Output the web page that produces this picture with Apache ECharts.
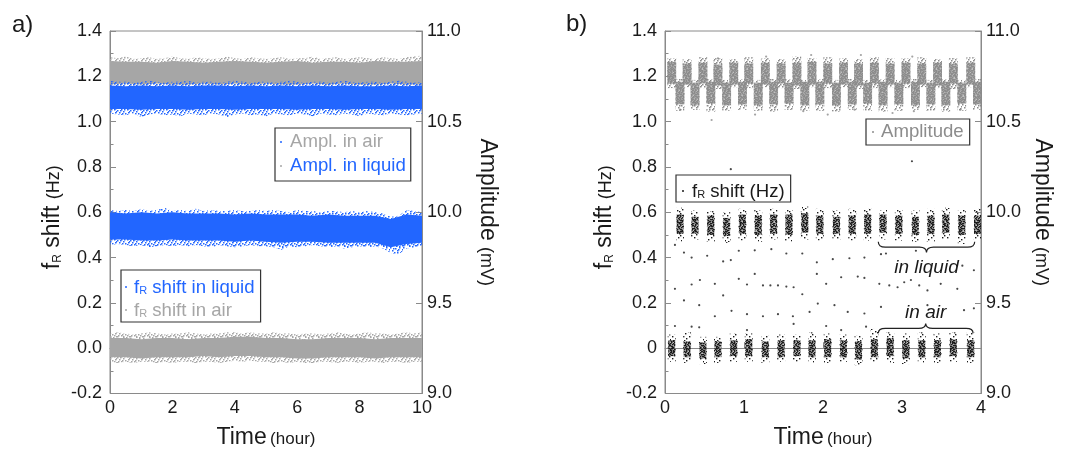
<!DOCTYPE html>
<html><head><meta charset="utf-8">
<script src="https://cdn.jsdelivr.net/npm/echarts@6/dist/echarts.min.js"></script>
<style>html,body{margin:0;padding:0;background:#fff}#c{width:1065px;height:454px}</style>
</head><body><div id="c"></div>
<script>
// ================= DATA =================
// ---- panel a: 10 h continuous records, noise-cloud envelopes ----
const tA41 = [0,0.25,0.5,0.75,1,1.25,1.5,1.75,2,2.25,2.5,2.75,3,3.25,3.5,3.75,4,4.25,4.5,4.75,5,5.25,5.5,5.75,6,6.25,6.5,6.75,7,7.25,7.5,7.75,8,8.25,8.5,8.75,9,9.25,9.5,9.75,10];
const tA21 = [0,0.5,1,1.5,2,2.5,3,3.5,4,4.5,5,5.5,6,6.5,7,7.5,8,8.5,9,9.5,10];

// Amplitude in air (mV)
const airAmpOuterHi = [10.855,10.85,10.86,10.845,10.85,10.855,10.845,10.85,10.86,10.85,10.845,10.855,10.85,10.845,10.85,10.86,10.85,10.845,10.855,10.85,10.845,10.85,10.855,10.845,10.85,10.85,10.86,10.845,10.85,10.855,10.845,10.85,10.855,10.85,10.845,10.855,10.85,10.845,10.855,10.86,10.865];
const airAmpOuterLo = [10.68,10.675,10.67,10.68,10.675,10.68,10.67,10.675,10.68,10.675,10.67,10.68,10.675,10.67,10.68,10.675,10.68,10.67,10.675,10.68,10.675,10.67,10.68,10.675,10.68,10.67,10.675,10.68,10.675,10.67,10.68,10.675,10.67,10.68,10.675,10.68,10.67,10.675,10.68,10.675,10.67];
const airAmpCoreHi = [10.835,10.83,10.83,10.825,10.835,10.83,10.825,10.83,10.835,10.83,10.825,10.83,10.835,10.825,10.83,10.83,10.825,10.835,10.83,10.83,10.835];
const airAmpCoreLo = [10.705,10.71,10.705,10.71,10.705,10.705,10.71,10.705,10.71,10.705,10.71,10.705,10.705,10.71,10.705,10.71,10.705,10.705,10.71,10.705,10.705];
// Amplitude in liquid (mV)
const liqAmpOuterHi = [10.725,10.72,10.72,10.715,10.72,10.725,10.72,10.715,10.72,10.72,10.725,10.715,10.72,10.72,10.715,10.72,10.725,10.72,10.715,10.72,10.72,10.715,10.72,10.725,10.72,10.715,10.72,10.72,10.715,10.72,10.725,10.72,10.715,10.72,10.72,10.715,10.72,10.725,10.72,10.715,10.72];
const liqAmpCoreHi = [10.7,10.695,10.7,10.695,10.7,10.695,10.7,10.7,10.695,10.7,10.695,10.7,10.695,10.7,10.695,10.7,10.695,10.695,10.7,10.695,10.7];
const liqAmpCoreLo = [10.57,10.57,10.565,10.57,10.57,10.565,10.57,10.57,10.565,10.57,10.57,10.57,10.565,10.57,10.57,10.565,10.57,10.57,10.565,10.57,10.57];
const liqAmpOuterLo = [10.545,10.54,10.535,10.545,10.525,10.54,10.545,10.535,10.54,10.53,10.545,10.54,10.535,10.545,10.54,10.525,10.54,10.545,10.535,10.54,10.53,10.545,10.54,10.535,10.545,10.54,10.53,10.545,10.54,10.535,10.545,10.54,10.53,10.545,10.54,10.535,10.545,10.54,10.535,10.54,10.545];
// fR shift in liquid (Hz)
const liqFrOuterHi = [0.61,0.605,0.61,0.605,0.615,0.605,0.61,0.62,0.605,0.61,0.605,0.615,0.605,0.61,0.605,0.605,0.61,0.605,0.605,0.61,0.605,0.61,0.605,0.6,0.61,0.605,0.605,0.6,0.605,0.605,0.6,0.605,0.6,0.605,0.6,0.595,0.58,0.585,0.61,0.605,0.6];
const liqFrCoreHi = [0.6,0.595,0.6,0.595,0.6,0.595,0.595,0.595,0.59,0.595,0.59,0.59,0.59,0.585,0.59,0.585,0.585,0.585,0.57,0.59,0.585];
const liqFrCoreLo = [0.48,0.48,0.475,0.475,0.48,0.475,0.475,0.475,0.47,0.475,0.47,0.465,0.47,0.47,0.465,0.465,0.465,0.465,0.445,0.46,0.465];
const liqFrOuterLo = [0.455,0.46,0.455,0.45,0.455,0.445,0.45,0.455,0.45,0.455,0.45,0.455,0.45,0.445,0.455,0.45,0.445,0.45,0.455,0.45,0.45,0.445,0.435,0.45,0.445,0.45,0.455,0.45,0.445,0.45,0.44,0.445,0.45,0.445,0.45,0.44,0.42,0.415,0.44,0.445,0.45];
// fR shift in air (Hz)
const airFrOuterHi = [0.065,0.07,0.065,0.06,0.065,0.07,0.065,0.06,0.065,0.065,0.07,0.065,0.06,0.065,0.065,0.07,0.07,0.065,0.07,0.065,0.065,0.07,0.065,0.065,0.06,0.065,0.065,0.06,0.065,0.07,0.065,0.06,0.065,0.07,0.065,0.065,0.06,0.065,0.07,0.065,0.07];
const airFrCoreHi = [0.045,0.045,0.04,0.045,0.045,0.04,0.045,0.045,0.05,0.05,0.045,0.045,0.04,0.04,0.045,0.045,0.045,0.04,0.045,0.045,0.045];
const airFrCoreLo = [-0.04,-0.04,-0.045,-0.04,-0.04,-0.04,-0.035,-0.04,-0.035,-0.035,-0.04,-0.04,-0.045,-0.045,-0.04,-0.04,-0.04,-0.045,-0.04,-0.04,-0.04];
const airFrOuterLo = [-0.06,-0.065,-0.06,-0.065,-0.06,-0.06,-0.065,-0.06,-0.065,-0.06,-0.06,-0.065,-0.06,-0.06,-0.065,-0.06,-0.055,-0.06,-0.055,-0.06,-0.06,-0.065,-0.06,-0.065,-0.06,-0.065,-0.065,-0.06,-0.06,-0.065,-0.06,-0.06,-0.065,-0.06,-0.06,-0.065,-0.06,-0.06,-0.065,-0.06,-0.06];

// ---- panel b: 4 h alternating air / liquid exposure ----
const airT = [0.085,0.28,0.48,0.67,0.87,1.06,1.27,1.47,1.67,1.86,2.06,2.26,2.45,2.65,2.85,3.05,3.25,3.45,3.65,3.87];
const airBurstCoreLo = [-0.035,-0.04,-0.045,-0.04,-0.035,-0.035,-0.04,-0.04,-0.035,-0.04,-0.04,-0.04,-0.05,-0.04,-0.035,-0.045,-0.04,-0.04,-0.035,-0.04];
const airBurstCoreHi = [0.035,0.03,0.025,0.03,0.035,0.04,0.03,0.035,0.035,0.035,0.04,0.035,0.03,0.04,0.045,0.035,0.035,0.035,0.04,0.035];
const airBurstOuterLo = [-0.06,-0.065,-0.07,-0.065,-0.06,-0.06,-0.065,-0.06,-0.06,-0.065,-0.065,-0.06,-0.075,-0.06,-0.065,-0.07,-0.065,-0.065,-0.06,-0.065];
const airBurstOuterHi = [0.06,0.07,0.05,0.05,0.065,0.065,0.055,0.06,0.06,0.07,0.065,0.06,0.055,0.085,0.07,0.065,0.07,0.065,0.07,0.07];
const liqT = [0.19,0.38,0.58,0.78,0.98,1.18,1.375,1.57,1.77,1.96,2.17,2.37,2.565,2.76,2.96,3.17,3.365,3.555,3.757,3.955];
const liqBurstCoreLo = [0.505,0.505,0.5,0.495,0.505,0.5,0.505,0.5,0.51,0.505,0.505,0.505,0.505,0.51,0.505,0.5,0.505,0.51,0.5,0.505];
const liqBurstCoreHi = [0.59,0.58,0.585,0.575,0.59,0.585,0.59,0.59,0.595,0.585,0.58,0.585,0.59,0.59,0.585,0.58,0.585,0.59,0.585,0.585];
const liqBurstOuterLo = [0.47,0.48,0.465,0.465,0.475,0.47,0.48,0.47,0.48,0.475,0.48,0.475,0.475,0.48,0.475,0.47,0.465,0.48,0.46,0.48];
const liqBurstOuterHi = [0.62,0.61,0.605,0.6,0.615,0.61,0.615,0.61,0.625,0.615,0.61,0.615,0.615,0.61,0.61,0.61,0.615,0.62,0.61,0.615];
// amplitude (mV): high blocks at airT, low blocks at liqT
const ampHiCoreLo = [10.71,10.705,10.71,10.7,10.705,10.71,10.705,10.71,10.7,10.705,10.71,10.705,10.7,10.71,10.705,10.71,10.705,10.7,10.71,10.705];
const ampHiCoreHi = [10.83,10.82,10.825,10.815,10.825,10.82,10.825,10.82,10.825,10.83,10.82,10.825,10.82,10.825,10.82,10.825,10.82,10.825,10.82,10.825];
const ampHiOuterLo = [10.685,10.69,10.685,10.68,10.69,10.685,10.69,10.685,10.68,10.69,10.685,10.69,10.68,10.685,10.69,10.685,10.69,10.685,10.68,10.69];
const ampHiOuterHi = [10.85,10.845,10.855,10.85,10.845,10.855,10.85,10.845,10.86,10.85,10.855,10.85,10.845,10.855,10.85,10.85,10.855,10.845,10.85,10.855];
const ampLoCoreLo = [10.595,10.59,10.6,10.59,10.595,10.59,10.595,10.6,10.59,10.595,10.59,10.595,10.6,10.59,10.595,10.59,10.595,10.59,10.6,10.595];
const ampLoCoreHi = [10.72,10.715,10.72,10.715,10.72,10.715,10.72,10.715,10.72,10.72,10.715,10.72,10.715,10.72,10.715,10.72,10.715,10.72,10.715,10.72];
const ampLoOuterLo = [10.56,10.565,10.555,10.56,10.565,10.56,10.555,10.565,10.56,10.56,10.555,10.565,10.56,10.555,10.56,10.565,10.56,10.555,10.56,10.565];
const ampLoOuterHi = [10.735,10.73,10.735,10.73,10.735,10.73,10.735,10.735,10.73,10.735,10.73,10.735,10.73,10.735,10.73,10.735,10.73,10.735,10.73,10.735];
const ampOutT = [0.19,0.59,1.14,1.75,2.06,2.40,2.88,3.15,3.74,0.67,1.28,1.85,2.48,3.13];
const ampOutV = [10.566,10.509,10.539,10.5575,10.539,10.566,10.5475,10.5575,10.566,10.849,10.859,10.8675,10.8675,10.859];
// sparse transition points of fR shift (Hz)
const trT = [0.126,0.24,0.337,0.534,0.736,0.833,0.934,1.136,1.346,1.536,1.738,1.922,
  0.126,0.337,0.442,0.631,0.736,0.934,1.038,1.136,1.24,1.334,1.43,1.536,1.628,1.738,1.922,
  0.24,0.433,0.631,0.842,1.038,1.24,1.43,1.619,1.83,
  0.126,0.337,0.433,1.038,1.628,0.833,
  2.124,2.334,2.524,2.734,2.797,3.176,3.764,
  2.04,2.23,2.44,2.524,2.713,2.839,2.944,3.028,3.113,3.218,3.322,3.49,3.70,
  1.934,2.145,2.313,2.524,2.734,3.322,3.785,
  2.04,2.23,2.545,3.126,3.91,3.91];
const trV = [0.456,0.422,0.40,0.408,0.383,0.389,0.43,0.432,0.437,0.418,0.418,0.379,
  0.262,0.281,0.301,0.284,0.233,0.306,0.281,0.328,0.277,0.277,0.277,0.272,0.269,0.238,0.328,
  0.211,0.19,0.141,0.165,0.15,0.141,0.15,0.141,0.16,
  0.098,0.095,0.092,0.08,0.107,0.79,
  0.393,0.397,0.40,0.415,0.418,0.43,0.364,
  0.284,0.313,0.316,0.31,0.284,0.277,0.269,0.291,0.301,0.277,0.255,0.284,0.262,
  0.197,0.19,0.16,0.153,0.182,0.19,0.168,
  0.098,0.08,0.095,0.825,0.344,0.176];
// annotations (panel b)
const annLabel = ['in liquid','in air'];
const annFrom = [2.70,2.70];
const annTo = [3.92,3.90];
const annEndY = [0.47,0.066];
const annTipY = [0.422,0.109];
const annTextY = [0.356,0.155];

// ================= STYLE / BUILD =================
const FONT = '"Liberation Sans", Arial, sans-serif';
const TXT = '#1a1a1a';
const AX = '#8a8a8a';
const BLUE = '#2266ff';
const GRAY = '#a6a6a6';
const GRAYB = '#8c8c8c';
const DARK = '#1a1a1a';

// speckle textures (fill style only): fixed dot layouts inside a small repeating tile
const TILE_SPARSE = { size: 11, dots: [[0,0],[6,1],[3,3],[9,4],[1,6],[7,6],[4,8],[10,9],[2,10],[8,2]] };
const TILE_MED = { size: 13, dots: [[0,0],[5,1],[9,0],[12,2],[2,3],[7,3],[10,5],[4,5],[0,6],[6,7],[11,8],[2,8],[8,9],[4,10],[12,11],[0,11],[6,12],[9,12],[3,1],[11,4],[1,10],[7,5],[5,9],[10,10],[3,6],[8,2],[12,7],[6,11]] };
const TILE_DENSE = { size: 9, dots: [[0,0],[2,0],[5,0],[7,1],[1,1],[3,2],[6,2],[8,3],[0,3],[4,3],[2,4],[5,4],[7,5],[1,5],[3,6],[6,6],[8,7],[0,7],[4,7],[2,8],[5,8],[7,8],[1,3],[6,4],[8,0],[4,1],[2,6],[5,6]] };
function pattern(color, tile, dot, base) {
  const cv = document.createElement('canvas');
  cv.width = tile.size; cv.height = tile.size;
  const g = cv.getContext('2d');
  if (base) { g.fillStyle = base; g.fillRect(0, 0, tile.size, tile.size); }
  g.fillStyle = color;
  tile.dots.forEach(p => g.fillRect(p[0], p[1], dot, dot));
  return { image: cv, repeat: 'repeat' };
}

function bandSeries(name, xi, yi, t, lo, hi, fill) {
  return {
    name, type: 'custom', xAxisIndex: xi, yAxisIndex: yi, silent: true, animation: false, clip: true,
    data: t.map((x, i) => [x, lo[i], hi[i]]),
    encode: { x: 0, y: [1, 2] },
    renderItem: function (params, api) {
      if (params.dataIndexInside !== 0) return null;
      const n = params.dataInsideLength;
      const pts = [];
      for (let j = 0; j < n; j++) pts.push(api.coord([api.value(0, j), api.value(2, j)]));
      for (let j = n - 1; j >= 0; j--) pts.push(api.coord([api.value(0, j), api.value(1, j)]));
      return { type: 'polygon', shape: { points: pts }, style: { fill: fill } };
    }
  };
}

function blockSeries(name, xi, yi, t, oLo, cLo, cHi, oHi, hw, outerFill, coreFill, coreShrink) {
  return {
    name, type: 'custom', xAxisIndex: xi, yAxisIndex: yi, silent: true, animation: false,
    data: t.map((x, i) => [x, oLo[i], cLo[i], cHi[i], oHi[i]]),
    encode: { x: 0, y: [1, 2, 3, 4] },
    renderItem: function (params, api) {
      const tt = api.value(0);
      const cs = params.coordSys;
      const box = { x: cs.x, y: cs.y, width: cs.width, height: cs.height };
      const rect = (x0, x1, y0, y1) => {
        const a = api.coord([x0, y1]), b = api.coord([x1, y0]);
        return echarts.graphic.clipRectByRect({ x: a[0], y: a[1], width: b[0] - a[0], height: b[1] - a[1] }, box);
      };
      const o = rect(tt - hw, tt + hw, api.value(1), api.value(4));
      const c = rect(tt - hw * coreShrink, tt + hw * coreShrink, api.value(2), api.value(3));
      const ch = [];
      if (o) ch.push({ type: 'rect', shape: o, style: { fill: outerFill } });
      if (c) ch.push({ type: 'rect', shape: c, style: { fill: coreFill } });
      return { type: 'group', children: ch };
    }
  };
}

function xAx(grid, max, interval) {
  return {
    type: 'value', gridIndex: grid, min: 0, max: max, interval: interval,
    name: '{a|Time} {b|(hour)}', nameLocation: 'middle', nameGap: 32,
    nameTextStyle: { rich: {
      a: { fontSize: 23, fontFamily: FONT, color: TXT, lineHeight: 24 },
      b: { fontSize: 17, fontFamily: FONT, color: TXT, lineHeight: 24, padding: [3, 0, 0, 0] } } },
    axisLine: { show: true, lineStyle: { color: AX, width: 1 } },
    axisTick: { show: true, inside: true, length: 6, lineStyle: { color: AX } },
    axisLabel: { fontSize: 18, fontFamily: FONT, color: TXT, margin: 6 },
    splitLine: { show: false }
  };
}
function yLeft(grid, zeroPlain, gap) {
  return {
    type: 'value', gridIndex: grid, position: 'left', min: -0.2, max: 1.4, interval: 0.2,
    name: '{a|f}{s|R}{a| shift }{b|(Hz)}', nameLocation: 'middle', nameRotate: 90, nameGap: gap,
    nameTextStyle: { padding: [0, 10, 0, 0], rich: {
      a: { fontSize: 23, fontFamily: FONT, color: TXT, lineHeight: 23, verticalAlign: 'top' },
      s: { fontSize: 12, fontFamily: FONT, color: TXT, lineHeight: 12, verticalAlign: 'bottom', padding: [17, 0, 0, 0] },
      b: { fontSize: 18, fontFamily: FONT, color: TXT, lineHeight: 18, verticalAlign: 'top', padding: [4, 0, 0, 0] } } },
    axisLine: { show: true, lineStyle: { color: AX, width: 1 } },
    axisTick: { show: true, inside: true, length: 6, lineStyle: { color: AX } },
    minorTick: { show: true, splitNumber: 2, length: 3.5, lineStyle: { color: AX } },
    axisLabel: { fontSize: 18, fontFamily: FONT, color: TXT, margin: 8,
      formatter: v => (zeroPlain && Math.abs(v) < 1e-9) ? '0' : (Math.abs(v) < 1e-9 ? '0.0' : v.toFixed(1)) },
    splitLine: { show: false }
  };
}
function yRight(grid, gap) {
  return {
    type: 'value', gridIndex: grid, position: 'right', min: 9, max: 11, interval: 0.5,
    name: '{a|Amplitude }{b|(mV)}', nameLocation: 'middle', nameRotate: -90, nameGap: gap,
    nameTextStyle: { rich: {
      a: { fontSize: 23, fontFamily: FONT, color: TXT, lineHeight: 23, verticalAlign: 'top' },
      b: { fontSize: 18, fontFamily: FONT, color: TXT, lineHeight: 18, verticalAlign: 'top', padding: [4, 0, 0, 0] } } },
    axisLine: { show: true, lineStyle: { color: AX, width: 1 } },
    axisTick: { show: true, inside: true, length: 6, lineStyle: { color: AX } },
    axisLabel: { fontSize: 18, fontFamily: FONT, color: TXT, margin: 5, formatter: v => v.toFixed(1) },
    splitLine: { show: false }
  };
}

const grayMed = pattern(GRAY, TILE_MED, 1.5);
const blueMed = pattern(BLUE, TILE_MED, 1.5);
const grayBMed = pattern(GRAYB, TILE_MED, 1.5);
const grayBDense = pattern(GRAYB, TILE_DENSE, 1.5, 'rgba(140,140,140,0.55)');
const darkSparse = pattern(DARK, TILE_SPARSE, 1.4);
const darkDense = pattern(DARK, TILE_DENSE, 1.4, 'rgba(40,40,40,0.3)');

const series = [
  bandSeries('Ampl. in air', 0, 1, tA41, airAmpOuterLo, airAmpOuterHi, grayMed),
  bandSeries('Ampl. in air', 0, 1, tA21, airAmpCoreLo, airAmpCoreHi, GRAY),
  bandSeries('Ampl. in liquid', 0, 1, tA41, liqAmpOuterLo, liqAmpOuterHi, blueMed),
  bandSeries('Ampl. in liquid', 0, 1, tA21, liqAmpCoreLo, liqAmpCoreHi, BLUE),
  bandSeries('fR shift in liquid', 0, 0, tA41, liqFrOuterLo, liqFrOuterHi, blueMed),
  bandSeries('fR shift in liquid', 0, 0, tA21, liqFrCoreLo, liqFrCoreHi, BLUE),
  bandSeries('fR shift in air', 0, 0, tA41, airFrOuterLo, airFrOuterHi, grayMed),
  bandSeries('fR shift in air', 0, 0, tA21, airFrCoreLo, airFrCoreHi, GRAY),
  // panel b
  blockSeries('Amplitude', 1, 3, liqT, ampLoOuterLo, ampLoCoreLo, ampLoCoreHi, ampLoOuterHi, 0.056, grayBMed, grayBDense, 1),
  blockSeries('Amplitude', 1, 3, airT, ampHiOuterLo, ampHiCoreLo, ampHiCoreHi, ampHiOuterHi, 0.056, grayBMed, grayBDense, 1),
  { name: 'Amplitude', type: 'scatter', xAxisIndex: 1, yAxisIndex: 3, symbolSize: 2.2, silent: true, animation: false,
    itemStyle: { color: GRAYB }, data: ampOutT.map((x, i) => [x, ampOutV[i]]) },
  blockSeries('fR shift (Hz)', 1, 2, liqT, liqBurstOuterLo, liqBurstCoreLo, liqBurstCoreHi, liqBurstOuterHi, 0.05, darkSparse, darkDense, 0.88),
  blockSeries('fR shift (Hz)', 1, 2, airT, airBurstOuterLo, airBurstCoreLo, airBurstCoreHi, airBurstOuterHi, 0.05, darkSparse, darkDense, 0.88),
  { name: 'fR shift (Hz)', type: 'scatter', xAxisIndex: 1, yAxisIndex: 2, symbolSize: 2.2, silent: true, animation: false,
    itemStyle: { color: DARK }, data: trT.map((x, i) => [x, trV[i]]) },
  { name: 'annotation', type: 'custom', xAxisIndex: 1, yAxisIndex: 2, silent: true, animation: false,
    data: annLabel.map((s, i) => [annFrom[i], annTo[i], annEndY[i], annTipY[i], annTextY[i]]),
    encode: { x: [0, 1], y: [2, 3, 4] },
    renderItem: function (params, api) {
      const i = params.dataIndex;
      const a = api.coord([api.value(0), api.value(2)]);
      const b = api.coord([api.value(1), api.value(2)]);
      const tip = api.coord([(api.value(0) + api.value(1)) / 2, api.value(3)]);
      const tx = api.coord([(api.value(0) + api.value(1)) / 2, api.value(4)]);
      const yE = a[1], yT = tip[1], yM = (yE + yT) / 2, xc = tip[0], r = 7;
      const d = `M${a[0]},${yE} Q${a[0]},${yM} ${a[0] + r},${yM} L${xc - r},${yM} Q${xc},${yM} ${xc},${yT} Q${xc},${yM} ${xc + r},${yM} L${b[0] - r},${yM} Q${b[0]},${yM} ${b[0]},${yE}`;
      return { type: 'group', children: [
        { type: 'path', shape: { pathData: d }, style: { fill: 'none', stroke: '#222', lineWidth: 1.2 } },
        { type: 'text', style: { text: annLabel[i], x: tx[0], y: tx[1], align: 'center', verticalAlign: 'middle',
          fontStyle: 'italic', fontSize: 19, fontFamily: FONT, fill: TXT } }
      ] };
    }
  }
];

const LEG_FS = 18.6;
const subRich = (c) => ({
  ['f' + c.k]: { fontSize: LEG_FS, fontFamily: FONT, color: c.c, lineHeight: 18, verticalAlign: 'top' },
  ['s' + c.k]: { fontSize: 11, fontFamily: FONT, color: c.c, lineHeight: 11, verticalAlign: 'bottom', padding: [13, 0, 0, 0] }
});
const legendBase = {
  orient: 'vertical', icon: 'circle', selectedMode: false,
  borderColor: '#333', borderWidth: 1.2, backgroundColor: 'rgba(0,0,0,0)',
  textStyle: { fontSize: LEG_FS, fontFamily: FONT, color: TXT, lineHeight: 20 }
};

const option = {
  animation: false,
  textStyle: { fontFamily: FONT },
  grid: [
    { left: 110, right: 643, top: 31, bottom: 57, show: true, borderColor: AX, borderWidth: 1, backgroundColor: 'transparent' },
    { left: 665, right: 84, top: 31, bottom: 57, show: true, borderColor: AX, borderWidth: 1, backgroundColor: 'transparent' }
  ],
  xAxis: [xAx(0, 10, 2), xAx(1, 4, 1)],
  yAxis: [yLeft(0, false, 46), yRight(0, 54), yLeft(1, true, 49), yRight(1, 50)],
  legend: [
    Object.assign({}, legendBase, {
      left: 275, top: 128, itemWidth: 8, itemHeight: 2, itemGap: 4, padding: [4, 5, 5, 5],
      data: [
        { name: 'Ampl. in air', textStyle: { color: GRAY }, itemStyle: { color: BLUE } },
        { name: 'Ampl. in liquid', textStyle: { color: BLUE }, itemStyle: { color: GRAY } }
      ]
    }),
    Object.assign({}, legendBase, {
      left: 121, top: 270, itemWidth: 6, itemHeight: 2, itemGap: -2, padding: [2, 6, 2, 4],
      data: [
        { name: 'fR shift in liquid', itemStyle: { color: BLUE } },
        { name: 'fR shift in air', itemStyle: { color: GRAY } }
      ],
      formatter: n => n === 'fR shift in liquid' ? '{fb|f}{sb|R}{fb| shift in liquid}' : '{fg|f}{sg|R}{fg| shift in air}',
      textStyle: { fontSize: LEG_FS, fontFamily: FONT, rich: Object.assign({}, subRich({ k: 'b', c: BLUE }), subRich({ k: 'g', c: GRAY })) }
    }),
    Object.assign({}, legendBase, {
      left: 866, top: 119, itemWidth: 6, itemHeight: 2, padding: [3, 6, 3, 6],
      data: [{ name: 'Amplitude', textStyle: { color: GRAYB }, itemStyle: { color: GRAYB } }]
    }),
    Object.assign({}, legendBase, {
      left: 676, top: 175, itemWidth: 8, itemHeight: 2, padding: [1, 6, 1, 6],
      data: [{ name: 'fR shift (Hz)', itemStyle: { color: DARK } }],
      formatter: () => '{fk|f}{sk|R}{fk| shift (Hz)}',
      textStyle: { fontSize: LEG_FS, fontFamily: FONT, rich: subRich({ k: 'k', c: TXT }) }
    })
  ],
  graphic: [
    { type: 'text', left: 12, top: 13, style: { text: 'a)', fontSize: 24, fontFamily: FONT, fill: TXT } },
    { type: 'text', left: 566, top: 12, style: { text: 'b)', fontSize: 24, fontFamily: FONT, fill: TXT } }
  ],
  series: series
};

const chart = echarts.init(document.getElementById('c'), null, { renderer: 'canvas' });
chart.setOption(option);
</script>
</body></html>
